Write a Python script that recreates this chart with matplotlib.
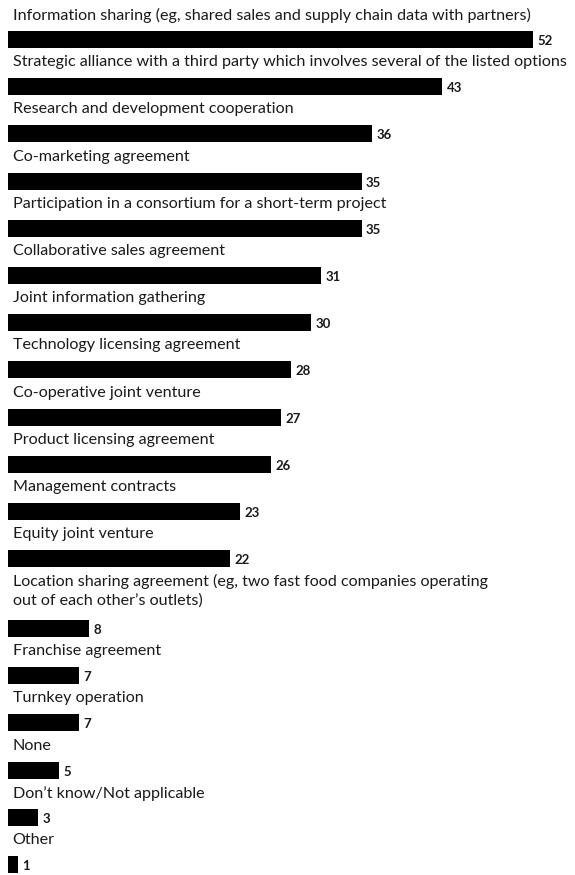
import matplotlib
matplotlib.use("Agg")
import matplotlib.pyplot as plt

labels = [
    "Information sharing (eg, shared sales and supply chain data with partners)",
    "Strategic alliance with a third party which involves several of the listed options",
    "Research and development cooperation",
    "Co-marketing agreement",
    "Participation in a consortium for a short-term project",
    "Collaborative sales agreement",
    "Joint information gathering",
    "Technology licensing agreement",
    "Co-operative joint venture",
    "Product licensing agreement",
    "Management contracts",
    "Equity joint venture",
    "Location sharing agreement (eg, two fast food companies operating\nout of each other\u2019s outlets)",
    "Franchise agreement",
    "Turnkey operation",
    "None",
    "Don\u2019t know/Not applicable",
    "Other",
]
values = [52, 43, 36, 35, 35, 31, 30, 28, 27, 26, 23, 22, 8, 7, 7, 5, 3, 1]

W, H = 575, 875
fig = plt.figure(figsize=(W / 100, H / 100), dpi=100)
ax = fig.add_axes([0, 0, 1, 1])

# x in survey units, y in pixel rows from the top
px_per_unit = 10.1
x0 = 8
ax.set_xlim(-x0 / px_per_unit, (W - x0) / px_per_unit)
ax.set_ylim(H, 0)
ax.axis("off")

family = ["Lato", "DejaVu Sans"]

# size the label font so the widest label fits the width (~555 px)
renderer = fig.canvas.get_renderer()
probe = fig.text(0, 0, labels[1], family=family, fontsize=10)
probe_w = probe.get_window_extent(renderer).width
probe.remove()
label_size = 10 * 555 / probe_w

label_font = dict(family=family, fontsize=label_size, color="#1a1a1a")
value_font = dict(family=family, fontsize=9.5, fontweight="bold", color="#1a1a1a")

row_step = 47.2
line_step = 22.5
bar_h = 17
y = 8  # top of the first label
for lab, v in zip(labels, values):
    nlines = lab.count("\n") + 1
    ax.text(0.45, y, lab, va="top", ha="left", linespacing=1.35, **label_font)
    bar_top = y + 23 + line_step * (nlines - 1)
    ax.barh(bar_top + bar_h / 2, v, height=bar_h, left=0, color="black")
    ax.text(v + 0.45, bar_top + bar_h - 1, str(v), va="bottom", ha="left", **value_font)
    y += row_step + line_step * (nlines - 1)

fig.savefig("out.png", dpi=100, facecolor="white")
